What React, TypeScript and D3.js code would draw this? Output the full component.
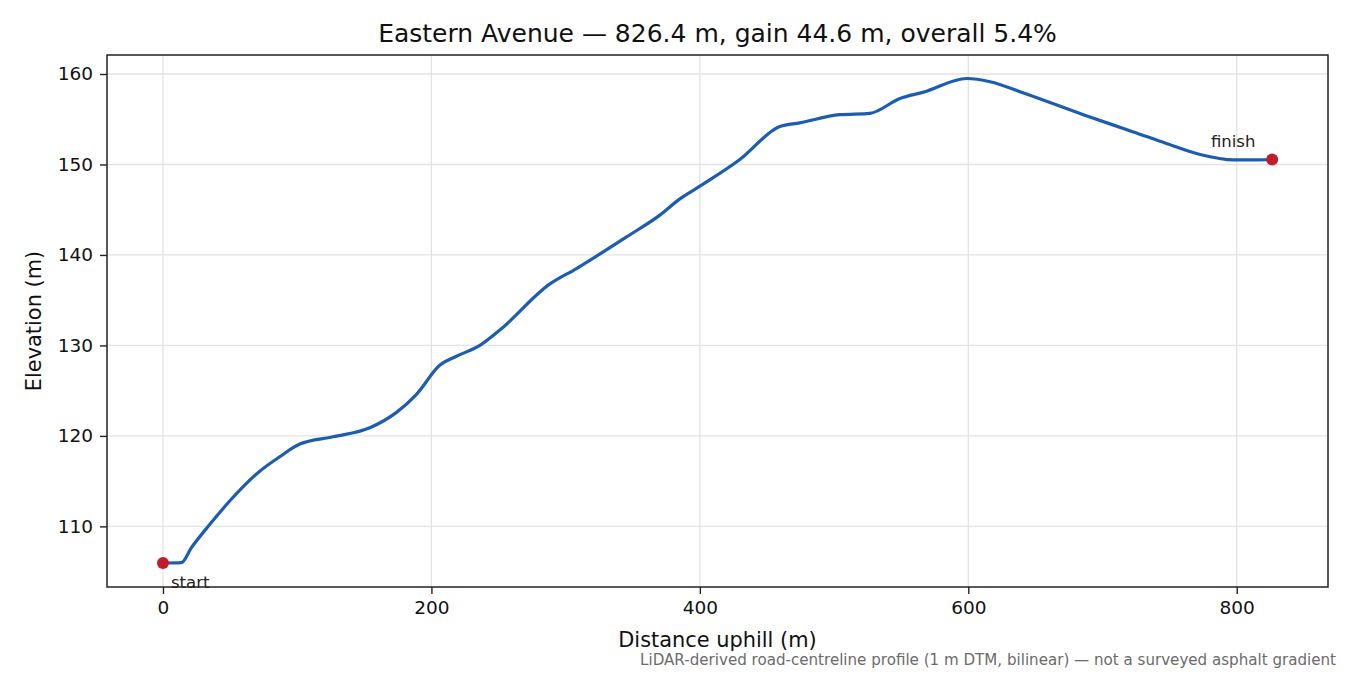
import { useEffect, useRef } from 'react'

import * as d3 from 'd3'

// distance along the road (m) and elevation (m)
const distance = [
  0, 13.7, 21.2, 34.8, 49.7, 72.1, 87.0, 101.9, 126.7, 154.1, 174.0, 188.9,
  206.2, 218.7, 236.1, 251.0, 288.3, 308.1, 345.4, 370.2, 385.1, 400.0, 429.8,
  459.6, 474.5, 504.3, 526.7, 549.1, 566.7, 598.8, 616.2, 641.2, 685.7, 723.0,
  748.1, 772.7, 797.7, 812.6, 826.4,
]
const elevation = [
  105.95, 106.0, 107.65, 110.2, 112.8, 116.1, 117.7, 119.1, 119.9, 120.9, 122.6,
  124.6, 127.8, 128.8, 130.0, 131.7, 136.8, 138.5, 142.0, 144.4, 146.2, 147.6,
  150.55, 154.2, 154.6, 155.5, 155.65, 157.3, 158.0, 159.5, 159.15, 157.9, 155.5,
  153.6, 152.3, 151.1, 150.5, 150.5, 150.55,
]

const xTicks = [0, 200, 400, 600, 800]
const yTicks = [110, 120, 130, 140, 150, 160]

const title = 'Eastern Avenue — 826.4 m, gain 44.6 m, overall 5.4%'
const xLabel = 'Distance uphill (m)'
const yLabel = 'Elevation (m)'
const footnote =
  'LiDAR-derived road-centreline profile (1 m DTM, bilinear) — not a surveyed asphalt gradient'

const WIDTH = 1350
const HEIGHT = 675
const FONT = 'DejaVu Sans, sans-serif'

const App = () => {
  const ref = useRef<SVGSVGElement>(null)

  useEffect(() => {
    const svg = d3.select(ref.current)
    svg.selectAll('*').remove()

    const margin = { top: 55, right: 22, bottom: 88, left: 107 }
    const w = WIDTH - margin.left - margin.right
    const h = HEIGHT - margin.top - margin.bottom

    const x = d3.scaleLinear().domain([-41.7, 868]).range([0, w])
    const y = d3.scaleLinear().domain([103.3, 162.1]).range([h, 0])

    svg.append('rect').attr('width', WIDTH).attr('height', HEIGHT).attr('fill', '#fff')

    const g = svg.append('g').attr('transform', `translate(${margin.left},${margin.top})`)

    // grid
    g.append('g')
      .selectAll('line')
      .data(xTicks)
      .join('line')
      .attr('x1', (d) => x(d))
      .attr('x2', (d) => x(d))
      .attr('y1', 0)
      .attr('y2', h)
      .attr('stroke', '#e3e3e3')
      .attr('stroke-width', 1.3)
    g.append('g')
      .selectAll('line')
      .data(yTicks)
      .join('line')
      .attr('x1', 0)
      .attr('x2', w)
      .attr('y1', (d) => y(d))
      .attr('y2', (d) => y(d))
      .attr('stroke', '#e3e3e3')
      .attr('stroke-width', 1.3)

    // axes
    const xAxis = g
      .append('g')
      .attr('transform', `translate(0,${h})`)
      .call(d3.axisBottom(x).tickValues(xTicks).tickSize(7).tickPadding(7).tickFormat((d) => String(d)))
    const yAxis = g
      .append('g')
      .call(d3.axisLeft(y).tickValues(yTicks).tickSize(7).tickPadding(7).tickFormat((d) => String(d)))
    ;[xAxis, yAxis].forEach((a) => {
      a.select('.domain').remove()
      a.selectAll('line').attr('stroke', '#222').attr('stroke-width', 1.4)
      a.selectAll('text').attr('font-family', FONT).attr('font-size', 18.5).attr('fill', '#111')
    })

    // frame
    g.append('rect')
      .attr('width', w)
      .attr('height', h)
      .attr('fill', 'none')
      .attr('stroke', '#222')
      .attr('stroke-width', 1.5)

    // profile line
    const pts = distance.map((d, i) => [d, elevation[i]] as [number, number])
    const line = d3
      .line<[number, number]>()
      .x((d) => x(d[0]))
      .y((d) => y(d[1]))
      .curve(d3.curveMonotoneX)
    g.append('path')
      .attr('d', line(pts))
      .attr('fill', 'none')
      .attr('stroke', '#1c5db2')
      .attr('stroke-width', 3.2)
      .attr('stroke-linejoin', 'round')

    // start / finish markers
    const first = pts[0]
    const last = pts[pts.length - 1]
    g.selectAll('circle.end')
      .data([first, last])
      .join('circle')
      .attr('cx', (d) => x(d[0]))
      .attr('cy', (d) => y(d[1]))
      .attr('r', 6)
      .attr('fill', '#c21d2b')

    g.append('text')
      .attr('x', x(first[0]) + 8)
      .attr('y', y(first[1]) + 25)
      .attr('font-family', FONT)
      .attr('font-size', 16.5)
      .attr('fill', '#222')
      .text('start')
    g.append('text')
      .attr('x', x(last[0]) - 39)
      .attr('y', y(last[1]) - 13)
      .attr('text-anchor', 'middle')
      .attr('font-family', FONT)
      .attr('font-size', 16.5)
      .attr('fill', '#222')
      .text('finish')

    // titles
    svg.append('text')
      .attr('x', margin.left + w / 2)
      .attr('y', 42)
      .attr('text-anchor', 'middle')
      .attr('font-family', FONT)
      .attr('font-size', 25)
      .attr('fill', '#111')
      .text(title)
    svg.append('text')
      .attr('x', margin.left + w / 2)
      .attr('y', 647)
      .attr('text-anchor', 'middle')
      .attr('font-family', FONT)
      .attr('font-size', 20.9)
      .attr('fill', '#111')
      .text(xLabel)
    svg.append('text')
      .attr('transform', `translate(41,${margin.top + h / 2}) rotate(-90)`)
      .attr('text-anchor', 'middle')
      .attr('font-family', FONT)
      .attr('font-size', 20.9)
      .attr('fill', '#111')
      .text(yLabel)
    svg.append('text')
      .attr('x', 1336)
      .attr('y', 665)
      .attr('text-anchor', 'end')
      .attr('font-family', FONT)
      .attr('font-size', 15.1)
      .attr('fill', '#6b6b6b')
      .text(footnote)
  }, [])

  return (
    <svg
      ref={ref}
      width={WIDTH}
      height={HEIGHT}
      style={{ position: 'absolute', left: 0, top: 0, display: 'block' }}
    />
  )
}

export default App
